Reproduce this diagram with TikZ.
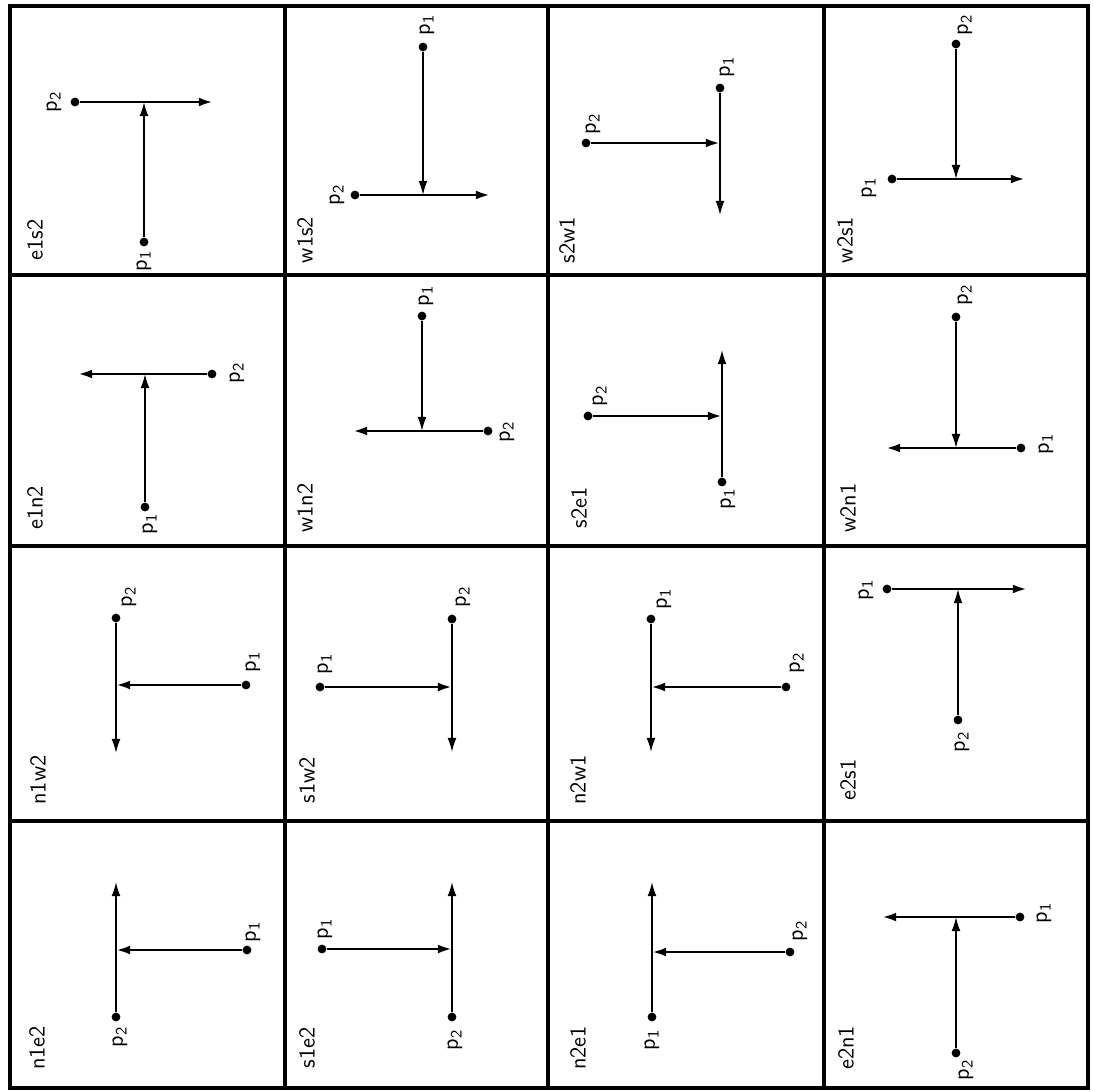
\documentclass[tikz,border=0pt]{standalone}
\usetikzlibrary{arrows.meta}
\newcommand{\plab}[1]{p\textsubscript{#1}}
\tikzset{
  pdot/.style={circle,fill,inner sep=0pt,minimum size=5pt},
  hseg/.style={line width=1.5pt,->},
  vseg/.style={line width=0.8pt,->},
  plbl/.style={rotate=90,font=\sffamily\fontsize{13}{15}\selectfont},
  cname/.style={rotate=90,font=\sffamily\fontsize{13}{15}\selectfont},
  gridline/.style={line width=2pt}
}
\begin{document}
\begin{tikzpicture}[x=0.02cm,y=-0.02cm,>={Latex[length=8pt,width=5pt]}]
	\useasboundingbox (0,0) rectangle (1093,1092);
	% the grid
	\foreach \x in {285,548,824} \draw[gridline] (\x,6) -- (\x,1088);
	\foreach \y in {275,546,821} \draw[gridline] (10,\y) -- (1088,\y);
	\draw[line width=2.5pt] (10,6) rectangle (1088,1088);
	% row 1
	\node[cname] (e1s2) at (35,240) {e1s2};
	\node[pdot] (e1s2p1) at (144,242) {};
	\node[pdot] (e1s2p2) at (75,102) {};
	\coordinate (e1s2j) at (144,102);
	\coordinate (e1s2t) at (213,102);
	\draw[vseg] (e1s2p1) -- (e1s2j);
	\draw[hseg] (e1s2p2) -- (e1s2t);
	\node[plbl] (e1s2l1) at (144,261) {\plab1};
	\node[plbl] (e1s2l2) at (54,102) {\plab2};

	\node[cname] (w1s2) at (305,240) {w1s2};
	\node[pdot] (w1s2p1) at (423,47) {};
	\node[pdot] (w1s2p2) at (355,195) {};
	\coordinate (w1s2j) at (423,195);
	\coordinate (w1s2t) at (490,195);
	\draw[vseg] (w1s2p1) -- (w1s2j);
	\draw[hseg] (w1s2p2) -- (w1s2t);
	\node[plbl] (w1s2l1) at (427,25) {\plab1};
	\node[plbl] (w1s2l2) at (337,195) {\plab2};

	\node[cname] (s2w1) at (567,240) {s2w1};
	\node[pdot] (s2w1p1) at (720,88) {};
	\node[pdot] (s2w1p2) at (586,143) {};
	\coordinate (s2w1j) at (720,143);
	\coordinate (s2w1t) at (720,215);
	\draw[hseg] (s2w1p2) -- (s2w1j);
	\draw[vseg] (s2w1p1) -- (s2w1t);
	\node[plbl] (s2w1l1) at (727,67) {\plab1};
	\node[plbl] (s2w1l2) at (593,124) {\plab2};

	\node[cname] (w2s1) at (845,240) {w2s1};
	\node[pdot] (w2s1p1) at (892,179) {};
	\node[pdot] (w2s1p2) at (956,44) {};
	\coordinate (w2s1j) at (956,179);
	\coordinate (w2s1t) at (1025,179);
	\draw[vseg] (w2s1p2) -- (w2s1j);
	\draw[hseg] (w2s1p1) -- (w2s1t);
	\node[plbl] (w2s1l1) at (869,188) {\plab1};
	\node[plbl] (w2s1l2) at (965,25) {\plab2};
	% row 2
	\node[cname] (e1n2) at (35,508) {e1n2};
	\node[pdot] (e1n2p1) at (145,507) {};
	\node[pdot] (e1n2p2) at (212,374) {};
	\coordinate (e1n2j) at (145,374);
	\coordinate (e1n2t) at (78,374);
	\draw[vseg] (e1n2p1) -- (e1n2j);
	\draw[hseg] (e1n2p2) -- (e1n2t);
	\node[plbl] (e1n2l1) at (150,524) {\plab1};
	\node[plbl] (e1n2l2) at (237,373) {\plab2};

	\node[cname] (w1n2) at (305,508) {w1n2};
	\node[pdot] (w1n2p1) at (422,316) {};
	\node[pdot] (w1n2p2) at (488,431) {};
	\coordinate (w1n2j) at (422,431);
	\coordinate (w1n2t) at (353,431);
	\draw[vseg] (w1n2p1) -- (w1n2j);
	\draw[hseg] (w1n2p2) -- (w1n2t);
	\node[plbl] (w1n2l1) at (426,296) {\plab1};
	\node[plbl] (w1n2l2) at (507,432) {\plab2};

	\node[cname] (s2e1) at (579,508) {s2e1};
	\node[pdot] (s2e1p1) at (722,482) {};
	\node[pdot] (s2e1p2) at (588,416) {};
	\coordinate (s2e1j) at (722,416);
	\coordinate (s2e1t) at (722,350);
	\draw[hseg] (s2e1p2) -- (s2e1j);
	\draw[vseg] (s2e1p1) -- (s2e1t);
	\node[plbl] (s2e1l1) at (728,499) {\plab1};
	\node[plbl] (s2e1l2) at (600,396) {\plab2};

	\node[cname] (w2n1) at (848,508) {w2n1};
	\node[pdot] (w2n1p1) at (1021,448) {};
	\node[pdot] (w2n1p2) at (956,317) {};
	\coordinate (w2n1j) at (956,448);
	\coordinate (w2n1t) at (886,448);
	\draw[vseg] (w2n1p2) -- (w2n1j);
	\draw[hseg] (w2n1p1) -- (w2n1t);
	\node[plbl] (w2n1l1) at (1046,444) {\plab1};
	\node[plbl] (w2n1l2) at (965,295) {\plab2};
	% row 3
	\node[cname] (n1w2) at (38,780) {n1w2};
	\node[pdot] (n1w2p1) at (246,685) {};
	\node[pdot] (n1w2p2) at (116,618) {};
	\coordinate (n1w2j) at (116,685);
	\coordinate (n1w2t) at (116,753);
	\draw[hseg] (n1w2p1) -- (n1w2j);
	\draw[vseg] (n1w2p2) -- (n1w2t);
	\node[plbl] (n1w2l1) at (253,662) {\plab1};
	\node[plbl] (n1w2l2) at (129,597) {\plab2};

	\node[cname] (s1w2) at (307,780) {s1w2};
	\node[pdot] (s1w2p1) at (320,687) {};
	\node[pdot] (s1w2p2) at (452,619) {};
	\coordinate (s1w2j) at (452,687);
	\coordinate (s1w2t) at (452,752);
	\draw[hseg] (s1w2p1) -- (s1w2j);
	\draw[vseg] (s1w2p2) -- (s1w2t);
	\node[plbl] (s1w2l1) at (325,664) {\plab1};
	\node[plbl] (s1w2l2) at (463,597) {\plab2};

	\node[cname] (n2w1) at (578,780) {n2w1};
	\node[pdot] (n2w1p1) at (651,619) {};
	\node[pdot] (n2w1p2) at (786,687) {};
	\coordinate (n2w1j) at (651,687);
	\coordinate (n2w1t) at (651,752);
	\draw[hseg] (n2w1p2) -- (n2w1j);
	\draw[vseg] (n2w1p1) -- (n2w1t);
	\node[plbl] (n2w1l1) at (664,599) {\plab1};
	\node[plbl] (n2w1l2) at (797,663) {\plab2};

	\node[cname] (e2s1) at (848,780) {e2s1};
	\node[pdot] (e2s1p1) at (887,589) {};
	\node[pdot] (e2s1p2) at (958,720) {};
	\coordinate (e2s1j) at (958,589);
	\coordinate (e2s1t) at (1027,589);
	\draw[vseg] (e2s1p2) -- (e2s1j);
	\draw[hseg] (e2s1p1) -- (e2s1t);
	\node[plbl] (e2s1l1) at (866,590) {\plab1};
	\node[plbl] (e2s1l2) at (962,742) {\plab2};
	% row 4
	\node[cname] (n1e2) at (37,1048) {n1e2};
	\node[pdot] (n1e2p1) at (247,950) {};
	\node[pdot] (n1e2p2) at (116,1017) {};
	\coordinate (n1e2j) at (116,950);
	\coordinate (n1e2t) at (116,882);
	\draw[hseg] (n1e2p1) -- (n1e2j);
	\draw[vseg] (n1e2p2) -- (n1e2t);
	\node[plbl] (n1e2l1) at (253,932) {\plab1};
	\node[plbl] (n1e2l2) at (120,1037) {\plab2};

	\node[cname] (s1e2) at (307,1048) {s1e2};
	\node[pdot] (s1e2p1) at (322,949) {};
	\node[pdot] (s1e2p2) at (452,1017) {};
	\coordinate (s1e2j) at (452,949);
	\coordinate (s1e2t) at (452,882);
	\draw[hseg] (s1e2p1) -- (s1e2j);
	\draw[vseg] (s1e2p2) -- (s1e2t);
	\node[plbl] (s1e2l1) at (325,929) {\plab1};
	\node[plbl] (s1e2l2) at (455,1040) {\plab2};

	\node[cname] (n2e1) at (578,1048) {n2e1};
	\node[pdot] (n2e1p1) at (652,1017) {};
	\node[pdot] (n2e1p2) at (790,952) {};
	\coordinate (n2e1j) at (652,952);
	\coordinate (n2e1t) at (652,882);
	\draw[hseg] (n2e1p2) -- (n2e1j);
	\draw[vseg] (n2e1p1) -- (n2e1t);
	\node[plbl] (n2e1l1) at (652,1040) {\plab1};
	\node[plbl] (n2e1l2) at (800,931) {\plab2};

	\node[cname] (e2n1) at (846,1048) {e2n1};
	\node[pdot] (e2n1p1) at (1020,917) {};
	\node[pdot] (e2n1p2) at (956,1053) {};
	\coordinate (e2n1j) at (956,917);
	\coordinate (e2n1t) at (882,917);
	\draw[vseg] (e2n1p2) -- (e2n1j);
	\draw[hseg] (e2n1p1) -- (e2n1t);
	\node[plbl] (e2n1l1) at (1044,913) {\plab1};
	\node[plbl] (e2n1l2) at (966,1070) {\plab2};
\end{tikzpicture}
\end{document}
